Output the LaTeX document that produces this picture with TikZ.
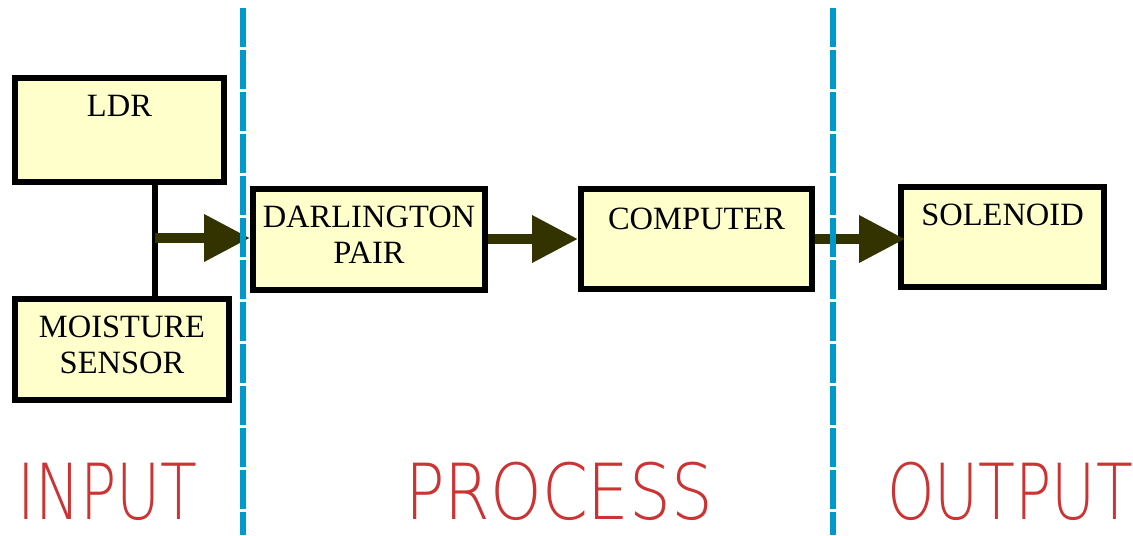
\documentclass[tikz,border=0pt]{standalone}
\usepackage{fontspec}
\setmainfont{Liberation Serif}
\newfontfamily\bandfont{DejaVu Sans ExtraLight}
\usetikzlibrary{positioning,arrows.meta}
\definecolor{boxfill}{HTML}{FFFFCC}
\definecolor{flowdark}{HTML}{333300}
\definecolor{stagered}{HTML}{CC3333}
\definecolor{divblue}{HTML}{0099CC}

\begin{document}
\begin{tikzpicture}[x=0.02cm, y=-0.02cm,
      font=\fontsize{18.5}{20}\selectfont,
      blk/.style={draw=black, line width=0.12cm, fill=boxfill, inner sep=0pt},
      blktext/.style={anchor=north, align=center, inner sep=0pt},
      link/.style={black, line width=0.12cm},
      flow/.style={-{Triangle[length=0.92cm, width=0.9cm]}, flowdark, line width=0.2cm},
      divider/.style={divblue, line width=0.12cm, dash pattern=on 0.78cm off 0.06cm},
      stage/.style={stagered, anchor=base, inner sep=0pt, xscale=0.78,
                    font=\bandfont\fontsize{44}{44}\selectfont},
      node distance=0.4cm]
    \useasboundingbox (0,0) rectangle (1133,535);
    % blocks
    \node[blk, minimum width=4.18cm, minimum height=2.08cm] (ldr) at (119.5,130) {};
    \node[blk, minimum width=4.28cm, minimum height=2.02cm] (moist) at (122,349.5) {};
    \node[blk, minimum width=4.64cm, minimum height=2.02cm] (darl) at (369,239.5) {};
    \node[blk, minimum width=4.62cm, minimum height=2.0cm] (comp) at (696.5,239) {};
    \node[blk, minimum width=4.06cm, minimum height=2.0cm] (sol) at (1002.5,237) {};
    \node[blktext, below=of ldr.north] (ldr-t) {LDR};
    \node[blktext, below=of moist.north] (moist-t) {MOISTURE\\SENSOR};
    \node[blktext, below=of darl.north] (darl-t) {DARLINGTON\\PAIR};
    \node[blktext, below=0.44cm of comp.north] (comp-t) {COMPUTER};
    \node[blktext, below=of sol.north] (sol-t) {SOLENOID};
    % connectors
    \coordinate (jn) at (155,238);
    \draw[link] (ldr.south -| jn) -- (moist.north -| jn);
    \draw[flow] (jn) -- (jn -| darl.west);
    \draw[flow] (darl.east |- comp.west) -- (comp.west);
    \draw[flow] (comp.east) -- ([xshift=0.14cm]sol.west |- comp.east);
    % stages
    \coordinate (d1a) at (243,8); \coordinate (d1b) at (243,535);
    \coordinate (d2a) at (833,8); \coordinate (d2b) at (833,535);
    \draw[divider] (d1a) -- (d1b);
    \draw[divider] (d2a) -- (d2b);
    \node[stage] (input) at (107.5,519) {INPUT};
    \node[stage, xscale=1.09] (process) at (559,519) {PROCESS};
    \node[stage] (output) at (1010,519) {OUTPUT};
  \end{tikzpicture}
\end{document}
